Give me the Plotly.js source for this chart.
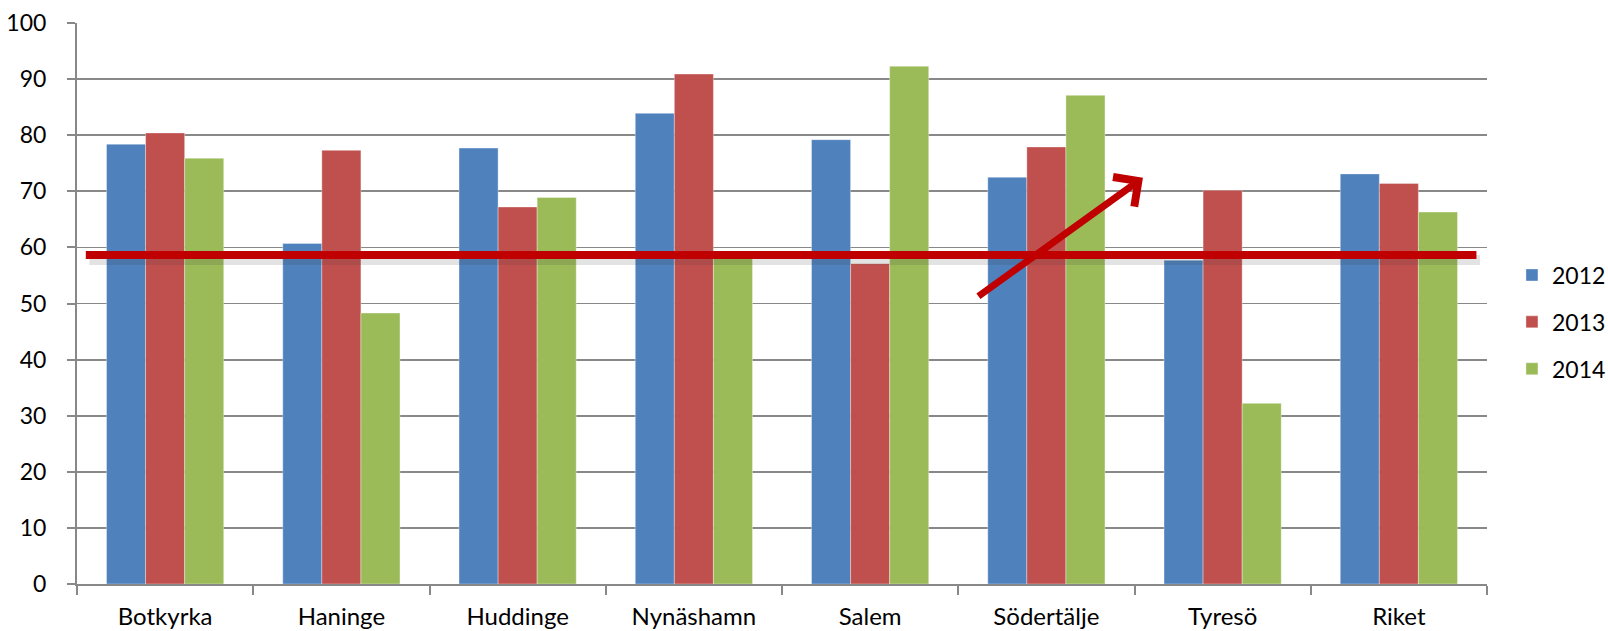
<!DOCTYPE html>
<html>
<head>
<meta charset="utf-8">
<script src="https://cdn.plot.ly/plotly-3.0.1.min.js"></script>
<style>html,body{margin:0;padding:0;background:#fff;}#chart{width:1608px;height:631px;}</style>
</head>
<body>
<div id="chart"></div>
<script>
const categories = ['Botkyrka','Haninge','Huddinge','Nynäshamn','Salem','Södertälje','Tyresö','Riket'];
const v2012 = [78.4, 60.7, 77.7, 83.9, 79.2, 72.5, 57.7, 73.1];
const v2013 = [80.4, 77.3, 67.2, 90.9, 57.1, 77.9, 70.2, 71.4];
const v2014 = [75.9, 48.3, 68.9, 58.5, 92.3, 87.1, 32.2, 66.3];
const seriesNames = ['2012','2013','2014'];
const refLevel = 58.65;
const yTicks = [0,10,20,30,40,50,60,70,80,90,100];

const colors = ['#4F81BD','#C0504D','#9BBB59'];
const vals = [v2012, v2013, v2014];
const traces = vals.map((v,i) => ({
  type: 'bar', x: categories, y: v, name: seriesNames[i],
  legendgroup: 'g'+i,
  marker: {color: colors[i], line: {color: 'rgba(255,255,255,0.35)', width: 1}},
  hoverinfo: 'x+y'
}));

const grey = '#888888';
const layout = {
  width: 1608, height: 631,
  margin: {l: 77, r: 121, t: 23, b: 47, pad: 0, autoexpand: false},
  paper_bgcolor: '#fff', plot_bgcolor: '#fff',
  font: {family: 'Lato, "Open Sans", sans-serif', size: 23, color: '#000'},
  barmode: 'group', bargap: 0.335, bargroupgap: 0,
  showlegend: true,
  legend: {x: 1.0177, xanchor: 'left', y: 0.467, yanchor: 'middle',
           traceorder: 'grouped', tracegroupgap: 14, bgcolor: 'rgba(0,0,0,0)',
           font: {family: 'Lato, sans-serif', size: 23, color: '#000'}},
  xaxis: {type: 'category', showgrid: false, showline: true, linecolor: grey, linewidth: 2,
          ticks: 'outside', tickson: 'boundaries', ticklen: 9, tickcolor: grey, tickwidth: 2,
          ticklabelstandoff: 10, tickfont: {size: 24}, zeroline: false, fixedrange: true, automargin: false},
  yaxis: {range: [0, 100], tickvals: yTicks, showgrid: true, gridcolor: grey, gridwidth: 1.8,
          showline: true, linecolor: grey, linewidth: 2, ticks: 'outside', ticklen: 8,
          tickcolor: grey, tickwidth: 2, ticklabelstandoff: 16, zeroline: false, fixedrange: true,
          automargin: false},
  shapes: [
    {type: 'line', xref: 'x', yref: 'y', x0: -0.43, x1: 7.46, y0: refLevel - 0.9, y1: refLevel - 0.9,
     line: {color: 'rgba(60,60,60,0.14)', width: 10}, layer: 'above'},
    {type: 'line', xref: 'x', yref: 'y', x0: -0.45, x1: 7.44, y0: refLevel, y1: refLevel,
     line: {color: '#C00000', width: 8}, layer: 'above'}
  ],
  annotations: [
    {x: 5.548, y: 72.4, ax: 4.606, ay: 51.1, xref: 'x', yref: 'y', axref: 'x', ayref: 'y',
     text: '', showarrow: true, arrowhead: 4, arrowsize: 1, arrowwidth: 7, arrowcolor: '#C00000', standoff: 0}
  ]
};

Plotly.newPlot('chart', traces, layout, {displayModeBar: false, staticPlot: true});
</script>
</body>
</html>
